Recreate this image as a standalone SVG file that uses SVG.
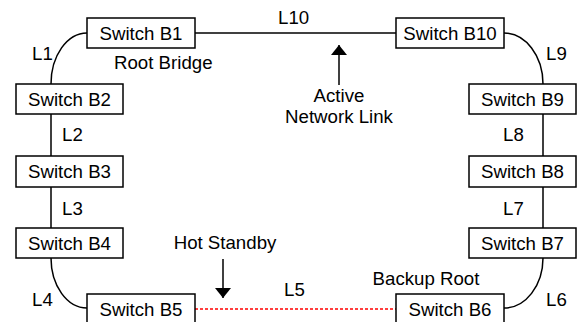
<svg xmlns="http://www.w3.org/2000/svg" width="581" height="322" viewBox="0 0 581 322">
<defs>
<style>
text{font-family:"Liberation Sans",Arial,sans-serif;font-size:18.67px;fill:#000}
.box rect{fill:#fff;stroke:#000;stroke-width:1.5}
.box text{text-anchor:middle}
.ln{fill:none;stroke:#000;stroke-width:1.5}
.dash{fill:none;stroke:#f00;stroke-width:1.5;stroke-dasharray:3 2}
.mid{text-anchor:middle}
</style>
<marker id="ah" viewBox="0 0 10 16" refX="10" refY="8" markerWidth="10" markerHeight="16" markerUnits="userSpaceOnUse" orient="auto">
<path d="M0,0 L10,8 L0,16 Z" fill="#000"/>
</marker>
</defs>
<rect width="581" height="322" fill="#fff"/>
<g id="connectors">
<path class="ln" d="M87,33 A36,51 0 0 0 51,84"/>
<path class="ln" d="M51,114 V156 M51,187 V228"/>
<path class="ln" d="M51,258 A36,50 0 0 0 87,308"/>
<path class="dash" d="M195,309 H396"/>
<path class="ln" d="M504,308 A39,50 0 0 0 543,258"/>
<path class="ln" d="M543,114 V156 M543,187 V228"/>
<path class="ln" d="M504,33 A39,51 0 0 1 543,84"/>
<path class="ln" d="M195,33 H396"/>
<text x="32" y="60">L1</text>
<text x="62" y="141">L2</text>
<text x="62" y="215">L3</text>
<text x="32" y="306">L4</text>
<text x="284" y="296">L5</text>
<text x="546" y="306">L6</text>
<text x="503" y="215">L7</text>
<text x="503" y="141">L8</text>
<text x="546" y="60">L9</text>
<text x="278" y="24">L10</text>
</g>
<g id="annot-active">
<path class="ln" d="M339,85 V45" marker-end="url(#ah)"/>
<text class="mid" x="339" y="102">Active</text>
<text class="mid" x="339" y="123">Network Link</text>
</g>
<g id="annot-hot">
<path class="ln" d="M223,259 V298" marker-end="url(#ah)"/>
<text class="mid" x="225" y="249">Hot Standby</text>
</g>
<g id="B1" class="box"><rect x="87" y="18" width="108" height="30"/><text x="141" y="39.5">Switch B1</text></g>
<text id="root-label" x="114" y="69">Root Bridge</text>
<g id="B2" class="box"><rect x="16" y="84" width="107" height="30"/><text x="69.5" y="105.5">Switch B2</text></g>
<g id="B3" class="box"><rect x="16" y="156" width="107" height="31"/><text x="69.5" y="178">Switch B3</text></g>
<g id="B4" class="box"><rect x="16" y="228" width="107" height="30"/><text x="69.5" y="249.5">Switch B4</text></g>
<g id="B5" class="box"><rect x="87" y="294" width="108" height="31"/><text x="141" y="316">Switch B5</text></g>
<g id="B6" class="box"><rect x="396" y="294" width="108" height="31"/><text x="450" y="316">Switch B6</text></g>
<text id="backup-label" x="426" y="285" class="mid">Backup Root</text>
<g id="B7" class="box"><rect x="469" y="228" width="107" height="30"/><text x="522.5" y="249.5">Switch B7</text></g>
<g id="B8" class="box"><rect x="469" y="156" width="107" height="31"/><text x="522.5" y="178">Switch B8</text></g>
<g id="B9" class="box"><rect x="469" y="84" width="107" height="30"/><text x="522.5" y="105.5">Switch B9</text></g>
<g id="B10" class="box"><rect x="396" y="18" width="108" height="30"/><text x="450" y="39.5">Switch B10</text></g>
</svg>
